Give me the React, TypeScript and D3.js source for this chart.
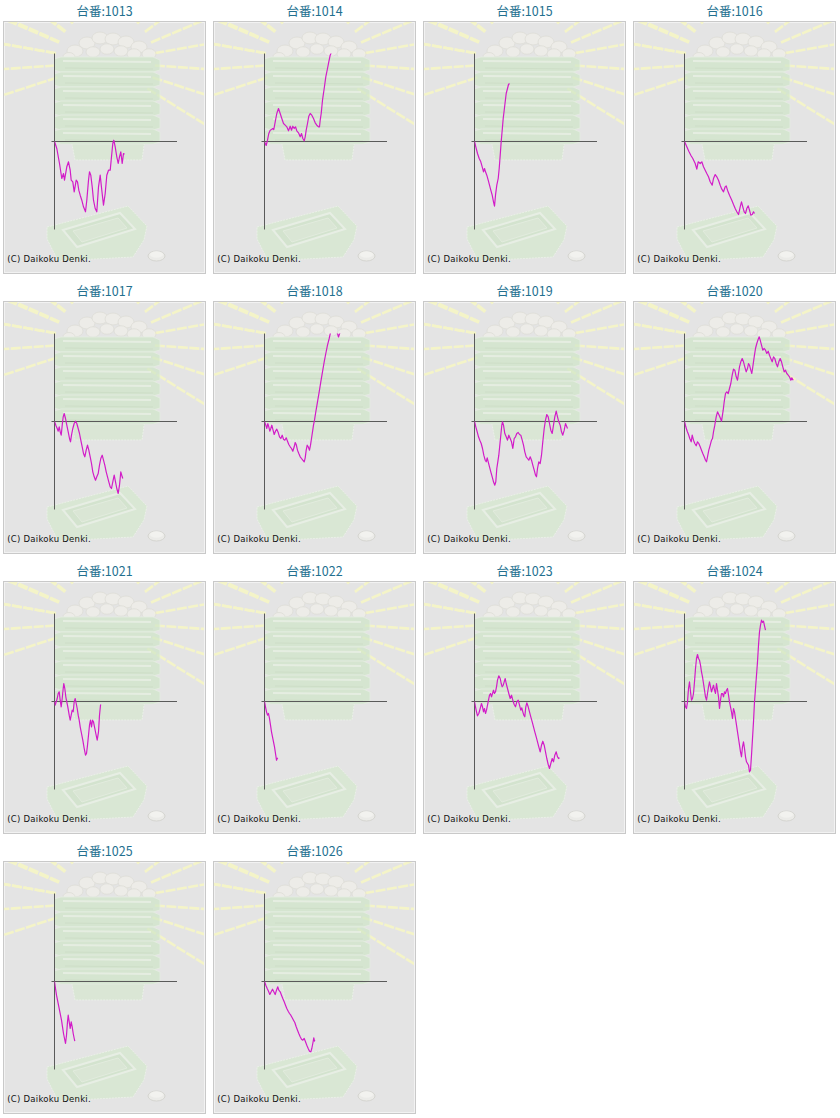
import React from "react";
import * as d3 from "d3";

type Pt = [number, number];

// machine numbers (台番)
const machineIds = [1013, 1014, 1015, 1016, 1017, 1018, 1019, 1020, 1021, 1022, 1023, 1024, 1025, 1026];

// axis extents (x: play count units, y: medal difference units)
const X_MAX = 122;
const Y_MAX = 88;

const s1013: Pt[] = [[0,0],[2.3,-7],[5,-22],[7.3,-37],[9,-32],[10,-38.7],[12.3,-25.3],[14,-20.3],[15.7,-28.7],[16.7,-38.7],[18.3,-40.3],[19.7,-50.3],[21.7,-38.7],[23,-40.3],[24.3,-48.7],[25.7,-53.7],[27.3,-58.7],[29,-65.3],[31,-70.3],[32.3,-58.7],[34,-38.7],[35,-30.3],[36.3,-33.7],[37.7,-45.3],[39,-58.7],[40.7,-67],[42.3,-70.3],[44,-45.3],[45.7,-33.7],[47.3,-48.7],[49,-63.7],[50.7,-52],[52.3,-33.7],[54,-28.7],[55.7,-28.7],[57,-15.3],[58.3,-2],[59.3,1.3],[60.7,-5.3],[62.3,-15.3],[63.7,-22],[65,-15.3],[66.3,-10.3],[67.7,-22],[69,-12],[70,-12.7]];
const s1014: Pt[] = [[0,-0.3],[1.7,-4],[3,1.3],[4.3,8],[5.7,11.3],[7,12],[8.3,13],[9.3,12],[10.7,19.7],[12.3,28],[14,33],[15.7,28],[17.3,23],[19,18],[20.7,16.3],[22.3,14.7],[24,10.7],[25.7,15.3],[27,11.3],[28.3,15.3],[29.7,13],[31,14.7],[32.3,10.7],[34,8.7],[35.7,4.7],[37,8],[38.3,3],[39.7,0.7],[40.7,4.7],[41.7,11.3],[43,18],[44.3,25.3],[45.7,28],[47.3,26.3],[49,23],[50.7,18.7],[52.3,16.3],[54,14.7],[55,14.7],[55.7,21.3],[56.7,28],[58,41.3],[59.7,53],[61.3,64.7],[63,73],[64.3,79.7],[65.7,86.3],[67,89.5],[68.5,94]];
const s1015: Pt[] = [[0,0],[1.3,-5.3],[3,-12],[4.7,-17],[6.3,-20.3],[7.7,-25.3],[9,-30.3],[10,-27],[11,-30.3],[12.3,-33.7],[13.7,-38.7],[15,-43.7],[16.3,-48.7],[17.7,-53.7],[19,-60.3],[20,-64.7],[21,-53.7],[22.3,-43.7],[23.7,-37],[24.7,-27],[25.7,-13.7],[26.7,0],[27.7,11.3],[28.7,23],[29.7,31.3],[30.7,39.7],[31.7,48],[33,53],[34,57],[35,58]];
const s1016: Pt[] = [[0,0],[2.3,-5.3],[4.3,-9.7],[6.3,-13.7],[8.3,-17],[10.7,-22],[12.3,-27.7],[13.7,-20.3],[15.7,-22],[17.3,-20.3],[19,-25.3],[20.7,-28.7],[22.3,-32],[24,-35.3],[25.7,-40.3],[27.7,-43.7],[29,-37],[30.7,-33],[32.3,-35.3],[34,-38.7],[35.7,-43.7],[37.3,-47.7],[39,-50.3],[40.7,-45.3],[41.7,-44.3],[43,-48.7],[45,-53.7],[47.3,-58.7],[49,-63],[50.7,-67],[52.3,-70.3],[54,-73],[55.7,-65.3],[57,-60.3],[58.3,-65.3],[59.7,-70.3],[61,-72],[62.3,-67],[63.7,-64.3],[65,-68.7],[66.3,-73.7],[67.7,-73],[69,-70.3],[70,-72]];
const s1017: Pt[] = [[0,0],[1.3,-3.7],[2.7,-7],[3.7,-9.7],[4.7,-5.3],[5.7,-10.3],[6.7,-13.7],[7.7,-3.7],[8.7,4.7],[9.7,8],[11,3],[12.3,-3.7],[13.7,-10.3],[15,-17],[16,-20.3],[17,-13.7],[18.3,-7],[19.7,-2],[21,0.3],[22.3,-2],[23.7,-7],[25,-12],[26.3,-18.7],[27.7,-25.3],[29,-32],[30.3,-35.3],[31.7,-28.7],[33,-23.7],[34.3,-28.7],[35.7,-35.3],[37,-42],[38.3,-50.3],[39.7,-55.3],[41,-58.7],[42.3,-55.3],[43.7,-52],[45,-43.7],[46.3,-37],[47.7,-33.7],[49,-38.7],[50.3,-43.7],[51.7,-50.3],[53,-55.3],[54.3,-60.3],[55.7,-65.3],[57,-67],[58.3,-60.3],[59.7,-53.7],[61,-60.3],[62.3,-67],[63.7,-72],[65,-63.7],[66.3,-50.3],[67.7,-55.3],[68.3,-57]];
const s1018: Pt[] = [[0,0],[1.3,-3.7],[2.3,-7],[3.3,-2],[4.3,-5.3],[5.3,-9.7],[6.3,-7],[7.3,-3.7],[8.3,-7.7],[9.7,-13],[11,-9.7],[12.3,-7.7],[13.7,-11],[15,-15.3],[16.3,-17],[17.7,-13.7],[19,-17.7],[20.3,-18.7],[21.7,-16.3],[23,-19.7],[24.3,-23],[25.7,-25.3],[27,-27],[28.3,-29.7],[29.7,-25.3],[30.7,-21],[31.7,-23],[33,-28.7],[34.3,-32],[35.7,-35.3],[37,-37],[38.3,-38.7],[39.7,-40.3],[40.7,-36.3],[41.7,-28.7],[42.7,-23.7],[43.7,-25.3],[45,-28.7],[46,-23.7],[47,-17],[48,-10.3],[49,-3.7],[50,1.3],[51.3,9.7],[53,19.7],[54.7,29.7],[56.3,39.7],[58,49.7],[59.7,59.7],[61.3,68],[63,76.3],[64.7,83],[66,89],[68,94],[70,95],[72.5,90],[74,84.5],[75.5,89],[77,93]];
const s1019: Pt[] = [[0,0],[1.3,-5.3],[2.7,-10.3],[4,-15.3],[5.3,-18.7],[6.7,-22],[8,-27],[9.3,-33.7],[10.7,-38.7],[11.7,-40.3],[12.7,-36.3],[13.7,-40.3],[15,-45.3],[16.3,-50.3],[17.7,-55.3],[19,-60.3],[20.3,-63.7],[21.3,-60.3],[22.3,-47],[23.3,-40.3],[24.3,-33.7],[25.3,-23.7],[26.3,-13.7],[27.3,-3.7],[28,-0.3],[29,-3.7],[30.3,-12],[31.7,-15.3],[33,-18.7],[34.3,-13.7],[35.7,-17],[37,-20.3],[38.3,-27],[39.7,-17],[41,-15.3],[42.3,-12],[43.7,-11],[45,-13],[46.3,-13.7],[47.7,-18.7],[49,-23.7],[50.3,-30.3],[51.7,-35.3],[53,-37],[54.3,-38.7],[55.7,-35.3],[57,-38.7],[58.3,-43.7],[59.7,-48.7],[61,-53.7],[62,-55.3],[63,-47],[64.3,-40.3],[65.7,-42],[67,-33.7],[68.3,-20.3],[69.7,-7],[71,1.3],[72.3,7],[73.7,4.7],[75,-2],[76.3,-8.7],[77.7,-12],[79,-3.7],[80.3,4.7],[81.7,10.3],[83,4.7],[84.3,-0.3],[85.7,-3.7],[87,-10.3],[88.3,-13.7],[89.7,-8.7],[91,-2],[92.3,-5.3],[93,-7]];
const s1020: Pt[] = [[0,0],[1.3,-5.3],[2.7,-9.7],[4,-13],[5.3,-17],[6.7,-20.3],[7.7,-13.7],[9,-18.7],[10.3,-22],[11.7,-24.3],[13,-20.3],[14.3,-22],[15.7,-25.3],[17,-28.7],[18.3,-32],[19.7,-35.3],[21,-38.7],[22,-40.3],[23,-35.3],[24.3,-28.7],[25.7,-23.7],[27,-18.7],[28,-17],[29,-10.3],[30.3,-3.7],[31.7,4.7],[33,9.7],[34.3,7],[35.7,3.7],[37,0.3],[37.7,4.7],[38.7,11.3],[39.7,19.7],[41,28],[42.3,29.7],[43.7,28],[45,33],[46.3,38],[47.7,46.3],[49,52.3],[50.3,51.3],[51.7,44.7],[53,41.3],[54,48],[55,54.7],[56.3,59.7],[57.7,63],[59,59.7],[60.3,54.7],[61.7,49.7],[63,53],[64,58],[65,56.3],[66.3,51.3],[67.3,48],[68.3,54.7],[69.7,64.7],[71,73],[72.3,78],[73.7,82.3],[74.7,84.7],[75.7,81.3],[77,76.3],[78.3,71.3],[79.7,73],[81,71.3],[82.3,68],[83.7,70.3],[85,66.3],[86.3,63],[87.7,59.7],[89,64.7],[90.3,63],[91.7,58],[93,54.7],[94.3,59.7],[95.7,63],[97,59.7],[98.3,54.7],[99.7,49.7],[101,51.3],[102.3,48],[103.7,46.3],[105,44.7],[106.3,41.3],[107.3,43.7],[108.7,41.3]];
const s1021: Pt[] = [[0,0],[0.7,-3.7],[1.7,-0.3],[2.7,3],[3.7,8],[4.7,9.7],[5.7,1.3],[6.7,-5.3],[7.7,3],[8.7,13],[9.3,18],[10.3,13],[11.3,4.7],[12.3,-0.3],[13.3,-5.3],[14.7,-13.7],[15.7,-18.7],[16.7,-13.7],[17.7,-8.7],[18.7,-10.3],[19.7,-0.3],[20.7,3],[21.7,-2],[22.7,-7],[23.7,-13.7],[24.7,-18.7],[25.7,-25.3],[27,-32],[28.3,-38.7],[29.7,-47],[31,-53.7],[32,-52],[33,-43.7],[34,-33.7],[35,-23.7],[36,-18.7],[37,-25.3],[38,-18.7],[39,-20.3],[40,-25.3],[41.3,-32],[42.7,-38.7],[44,-30.3],[45,-13.7],[46,-3.7],[46.3,-3]];
const s1022: Pt[] = [[0,0],[1,-5.3],[2,-10.3],[3,-13.7],[4,-12],[5,-17],[6,-23.7],[7,-30.3],[8,-35.3],[9,-40.3],[10,-45.3],[11,-52],[12,-58.7],[12.7,-57],[13.3,-56.3]];
const s1023: Pt[] = [[0,0],[1,-5.3],[2,-10.3],[3,-14.3],[4.3,-12],[5.7,-7],[7,-2],[8,-5.3],[9,-10.3],[10,-7],[11,-12],[12,-8.7],[13,-3.7],[14,1.3],[15,6.3],[16,8],[17,4.7],[18,8],[19,11.3],[20,8],[21,9.7],[22,14.7],[23,21.3],[24.3,25.7],[25.7,23],[26.7,18],[27.7,14.7],[28.7,16.3],[29.7,19.7],[30.7,23],[31.7,18],[33,13],[34.3,8],[35.7,3],[37,6.3],[38.3,1.3],[39.7,-3],[41,-5.3],[42.3,-0.3],[43.7,1.3],[45,-3.7],[46.3,-8.7],[47.3,-6.3],[48.3,-10.3],[49.3,-13.7],[50.3,-15.3],[51.3,-5.3],[52.3,-1.3],[53.7,-5.3],[55,-10.3],[56.3,-15.3],[57.7,-20.3],[59,-25.3],[60.3,-30.3],[61.7,-35.3],[63,-40.3],[64.3,-45.3],[65.7,-50.3],[67,-43.7],[68.3,-39.7],[69.7,-43.7],[71,-50.3],[72.3,-57],[73.7,-63],[75,-67],[76.3,-62],[77.7,-57],[79,-60.3],[80.3,-53.7],[81.7,-50.3],[83,-55.3],[84,-57],[85,-56.3]];
const s1024: Pt[] = [[0,0],[1,-5.3],[2,-7],[3,-0.3],[4,13],[5,19.7],[6,9.7],[7,1.3],[8,3],[9,8],[10,19.7],[11,33],[12,43],[13,47],[14,43],[15,41.3],[16,36.3],[17,29.7],[18,24.7],[19,18],[20,11.3],[21,4.7],[22,1.3],[23,8],[24,14.7],[25,19.7],[26,14.7],[27,9.7],[28,13],[29,16.3],[30,11.3],[31,8],[32,18],[33,11.3],[34,4.7],[35,-7],[36,1.3],[37,8],[38,8],[39,4.7],[40,9.7],[41,8],[42,11.3],[43,13],[44,6.3],[45,-0.3],[46,-5.3],[47,-10.3],[48,-17],[49,-7],[50,-10.3],[51,-17],[52,-23.7],[53,-30.3],[54,-37],[55,-43.7],[56,-50.3],[57,-55.3],[58,-45.3],[59,-40.3],[60,-47],[61,-55.3],[62,-60.3],[63,-62],[64,-63.7],[65,-70.3],[66,-68.7],[67,-53.7],[68,-37],[69,-20.3],[70,-0.3],[71,13],[72,26.3],[73,39.7],[74,56.3],[75,69.7],[76,76.3],[77,81.3],[78,79],[79,80.3],[80,75.7],[81,71.3]];
const s1025: Pt[] = [[0,0],[1,-7],[2,-13.7],[3,-18.7],[4,-23.7],[5,-28.7],[6,-33.7],[7,-38.7],[8,-45.3],[9,-52],[10,-57],[11,-62],[12,-53.7],[13,-40.3],[13.7,-33.7],[14.7,-40.3],[15.7,-47],[16.7,-40.3],[17.7,-45.3],[18.7,-52],[19.7,-57],[20.3,-59.7]];
const s1026: Pt[] = [[0,0],[1.3,-3.7],[2.7,-7],[4,-9.7],[5.3,-13],[6.7,-10.3],[8,-7.7],[9.3,-10.3],[10.7,-13],[12,-8.7],[13.3,-5.3],[14.3,-8.7],[15.7,-10.3],[17,-13.7],[18.3,-17],[19.7,-20.3],[21,-23.7],[22.3,-27],[23.7,-29.7],[25,-32],[26.3,-33.7],[27.7,-36.3],[29,-38.7],[30.3,-41],[31.7,-45.3],[33,-48.7],[34.3,-52],[35.7,-55.3],[37,-57.7],[38.3,-58.7],[39.7,-57],[41,-60.3],[42.3,-63.7],[43.7,-67],[45,-69.7],[46.3,-70.3],[47.3,-67],[48.3,-62],[49.3,-56.3],[50,-59.7],[50.3,-58.7]];

const seriesList: Pt[][] = [s1013, s1014, s1015, s1016, s1017, s1018, s1019, s1020, s1021, s1022, s1023, s1024, s1025, s1026];

// decorative background art (sunburst ray angles, degrees)
const rayAngles = [-170, -157, -143, -130, -117, -63, -50, -37, -23, -10, 4, 18, 32, 162, 176, 190, 204, 218];

const PANEL_W = 202;
const PANEL_H = 252;
const COLS = 4;
const STEP_X = 210;
const STEP_Y = 280;

function Background({ uid }: { uid: string }) {
  const cx = 102, cy = 41;
  const slabs = [36, 51, 66, 80, 94, 108];
  const balls: [number, number, number][] = [
    [72, 30, 8], [84, 22, 8], [97, 17, 8], [110, 18, 8], [123, 21, 8], [136, 26, 8],
    [146, 33, 7], [66, 36, 6], [90, 31, 7], [104, 28, 7], [118, 30, 7], [131, 33, 7],
  ];
  return (
    <g>
      <defs>
        <clipPath id={`pc-${uid}`}>
          <rect x={1} y={1} width={PANEL_W - 2} height={PANEL_H - 2} />
        </clipPath>
      </defs>
      <g clipPath={`url(#pc-${uid})`}>
        {rayAngles.map((a, i) => {
          const r = (a * Math.PI) / 180;
          return (
            <line key={i}
              x1={cx + Math.cos(r) * 50} y1={cy + Math.sin(r) * 50}
              x2={cx + Math.cos(r) * 160} y2={cy + Math.sin(r) * 160}
              stroke="#f4f4c8" strokeWidth={2.6} strokeDasharray="10 1.5" />
          );
        })}
        <g opacity={0.7}>
          {balls.map((b, i) => (
            <ellipse key={i} cx={b[0]} cy={b[1]} rx={b[2]} ry={b[2] * 0.75}
              fill="#f1f0ea" stroke="#dcdbd2" strokeWidth={0.8} />
          ))}
          <path d="M68,118 L142,118 L139,139 L72,139 Z" fill="#d6e8d0" stroke="#eef6ea" strokeWidth={1} strokeDasharray="2 1" />
          {slabs.map((t, i) => (
            <g key={i}>
              <path d={`M51,${t + 2} L58,${t} L150,${t} L157,${t + 3} L157,${t + 13} L150,${t + 15} L58,${t + 15} L51,${t + 13} Z`}
                fill="#d0e6c8" stroke="#e6f1e2" strokeWidth={0.8} />
              <path d={`M60,${t + 4} L148,${t + 5}`} stroke="#e6f2e1" strokeWidth={2} />
              <path d={`M62,${t + 11} L150,${t + 12}`} stroke="#c4dcbc" strokeWidth={1} />
            </g>
          ))}
          <path d="M44,206 L125,185 L144,205 L141,219 L130,236 L55,240 L44,218 Z"
            fill="#d5e9ce" stroke="#eef6ea" strokeWidth={1} strokeDasharray="2 1" />
          <path d="M60,209 L117,192 L132,208 L74,226 Z" fill="#cde3c6" stroke="#e9f3e5" strokeWidth={2} />
          <path d="M70,210 L115,197 L124,207 L79,221 Z" fill="#d6e8cf" stroke="#e2efdc" strokeWidth={1} />
          <ellipse cx={153.5} cy={235} rx={8.5} ry={5} fill="#efefea" stroke="#c8c8c0" strokeWidth={0.8} />
          <ellipse cx={153.5} cy={233.5} rx={6.5} ry={3.2} fill="#f8f8f4" />
        </g>
      </g>
    </g>
  );
}

function Panel({ id, data, col, row }: { id: number; data: Pt[]; col: number; row: number }) {
  const x = d3.scaleLinear().domain([0, X_MAX]).range([51.5, 173.5]);
  const y = d3.scaleLinear().domain([-Y_MAX, Y_MAX]).range([208.5, 32.5]);
  const line = d3.line<Pt>().x((d) => x(d[0])).y((d) => y(d[1]));
  const uid = String(id);
  return (
    <g transform={`translate(${3 + col * STEP_X},${21 + row * STEP_Y})`}>
      <text x={PANEL_W / 2 + 0.5} y={-5} textAnchor="middle" fontFamily="'Noto Sans CJK JP', 'Noto Sans', sans-serif"
        fontSize={12.5} fill="#23708f">{`台番:${id}`}</text>
      <rect x={0.5} y={0.5} width={PANEL_W} height={PANEL_H} fill="#e4e4e4" stroke="#c9c9c9" />
      <rect x={1.5} y={1.5} width={PANEL_W - 2} height={PANEL_H - 2} fill="none" stroke="#f2f2f2" />
      <Background uid={uid} />
      <defs>
        <clipPath id={`plot-${uid}`}>
          <rect x={x(0)} y={y(Y_MAX)} width={x(X_MAX) - x(0)} height={y(-Y_MAX) - y(Y_MAX)} />
        </clipPath>
      </defs>
      <line x1={x(0)} x2={x(0)} y1={y(Y_MAX)} y2={y(-Y_MAX)} stroke="#5a5a5a" strokeWidth={1} />
      <line x1={x(0) - 3} x2={x(X_MAX) + 0.5} y1={y(0)} y2={y(0)} stroke="#5a5a5a" strokeWidth={1} />
      <path d={line(data) || ""} fill="none" stroke="#d21cc8" strokeWidth={1.2} strokeLinejoin="round"
        clipPath={`url(#plot-${uid})`} />
      <text x={4.3} y={241} fontFamily="'DejaVu Sans', Verdana, sans-serif" fontSize={8.5} letterSpacing={0.25} fill="#111">
        (C) Daikoku Denki.
      </text>
    </g>
  );
}

export default function App() {
  return (
    <svg width={840} height={1118} style={{ position: "absolute", left: 0, top: 0, display: "block", background: "#fff" }}>
      {machineIds.map((id, i) => (
        <Panel key={id} id={id} data={seriesList[i]} col={i % COLS} row={Math.floor(i / COLS)} />
      ))}
    </svg>
  );
}
